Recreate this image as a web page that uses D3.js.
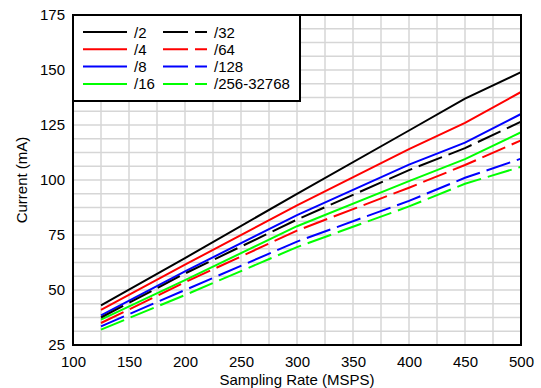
<!DOCTYPE html>
<html>
<head>
<meta charset="utf-8">
<script src="https://cdn.jsdelivr.net/npm/d3@7"></script>
<style>
html,body{margin:0;padding:0;background:#fff;}
svg{display:block;font-family:Arial,"Liberation Sans",sans-serif;}
</style>
</head>
<body>
<svg id="chart" width="541" height="388"></svg>
<script>
// Data
const samplingRates = [125, 200, 300, 400, 450, 500];
const seriesNames = ["/2", "/4", "/8", "/16", "/32", "/64", "/128", "/256-32768"];
const seriesColors = ["#000000", "#ff0000", "#0000ff", "#00ff00", "#000000", "#ff0000", "#0000ff", "#00ff00"];
const seriesDashed = [false, false, false, false, true, true, true, true];
const div2   = [43.0, 64.5, 93.7, 122.5, 137.0, 149.0];
const div4   = [41.0, 61.5, 88.5, 114.0, 126.0, 140.0];
const div8   = [38.5, 58.5, 84.0, 107.0, 117.0, 130.0];
const div16  = [36.5, 54.5, 79.0, 99.5, 109.5, 121.7];
const div32  = [37.5, 57.5, 82.0, 104.5, 114.5, 126.5];
const div64  = [35.0, 53.5, 77.0, 96.5, 106.8, 118.0];
const div128 = [33.5, 50.0, 72.0, 90.5, 101.0, 109.7];
const div256 = [32.0, 47.7, 69.5, 88.0, 98.3, 106.0];
const seriesValues = [div2, div4, div8, div16, div32, div64, div128, div256];
const xTicks = [100, 150, 200, 250, 300, 350, 400, 450, 500];
const yTicks = [25, 50, 75, 100, 125, 150, 175];
const xTitle = "Sampling Rate (MSPS)";
const yTitle = "Current (mA)";

const svg = d3.select("#chart");
const pL = 73, pR = 521, pT = 15, pB = 345;
const x = d3.scaleLinear().domain([100, 500]).range([pL, pR]);
const y = d3.scaleLinear().domain([25, 175]).range([pB, pT]);

// grid
const grid = svg.append("g").attr("stroke", "#d6d6d6").attr("stroke-width", 1.5);
grid.selectAll("line.v").data(d3.range(100, 501, 25)).join("line").attr("class", "v")
  .attr("x1", d => x(d)).attr("x2", d => x(d)).attr("y1", pT).attr("y2", pB);
grid.selectAll("line.h").data(d3.range(25, 175.01, 6.25)).join("line").attr("class", "h")
  .attr("y1", d => y(d)).attr("y2", d => y(d)).attr("x1", pL).attr("x2", pR);

// axes labels
const xAxis = d3.axisBottom(x).tickValues(xTicks).tickSize(0).tickPadding(11);
svg.append("g").attr("transform", `translate(0,${pB})`).call(xAxis)
  .call(g => g.select(".domain").remove())
  .selectAll("text").attr("font-size", 15).attr("font-family", "Arial, 'Liberation Sans', sans-serif").attr("fill", "#000");
const yAxis = d3.axisLeft(y).tickValues(yTicks).tickSize(0).tickPadding(8);
svg.append("g").attr("transform", `translate(${pL},0)`).call(yAxis)
  .call(g => g.select(".domain").remove())
  .selectAll("text").attr("font-size", 15).attr("font-family", "Arial, 'Liberation Sans', sans-serif").attr("fill", "#000");

// lines
const line = d3.line().x((d, i) => x(samplingRates[i])).y(d => y(d));
seriesValues.forEach((vals, k) => {
  svg.append("path").datum(vals).attr("d", line)
    .attr("fill", "none").attr("stroke", seriesColors[k]).attr("stroke-width", 2)
    .attr("stroke-dasharray", seriesDashed[k] ? "25,7" : null);
});

// plot border
svg.append("rect").attr("x", pL).attr("y", pT).attr("width", pR - pL).attr("height", pB - pT)
  .attr("fill", "none").attr("stroke", "#000").attr("stroke-width", 2);

// legend
const lg = svg.append("g");
lg.append("rect").attr("x", pL).attr("y", pT).attr("width", 227).attr("height", 86)
  .attr("fill", "#fff").attr("stroke", "#000").attr("stroke-width", 2);
seriesNames.forEach((name, k) => {
  const col = Math.floor(k / 4), row = k % 4;
  const lx = 83 + col * 80, ly = 32 + row * 17.3;
  lg.append("line").attr("x1", lx).attr("x2", lx + 44).attr("y1", ly).attr("y2", ly)
    .attr("stroke", seriesColors[k]).attr("stroke-width", 2)
    .attr("stroke-dasharray", seriesDashed[k] ? "25,7" : null);
  lg.append("text").attr("x", lx + 51).attr("y", ly + 5.5).attr("font-size", 15).attr("fill", "#000").text(name);
});

// titles
svg.append("text").attr("x", (pL + pR) / 2).attr("y", 385).attr("text-anchor", "middle")
  .attr("font-size", 15).attr("fill", "#000").text(xTitle);
svg.append("text").attr("transform", `translate(27,${(pT + pB) / 2}) rotate(-90)`).attr("text-anchor", "middle")
  .attr("font-size", 15).attr("fill", "#000").text(yTitle);
</script>
</body>
</html>
